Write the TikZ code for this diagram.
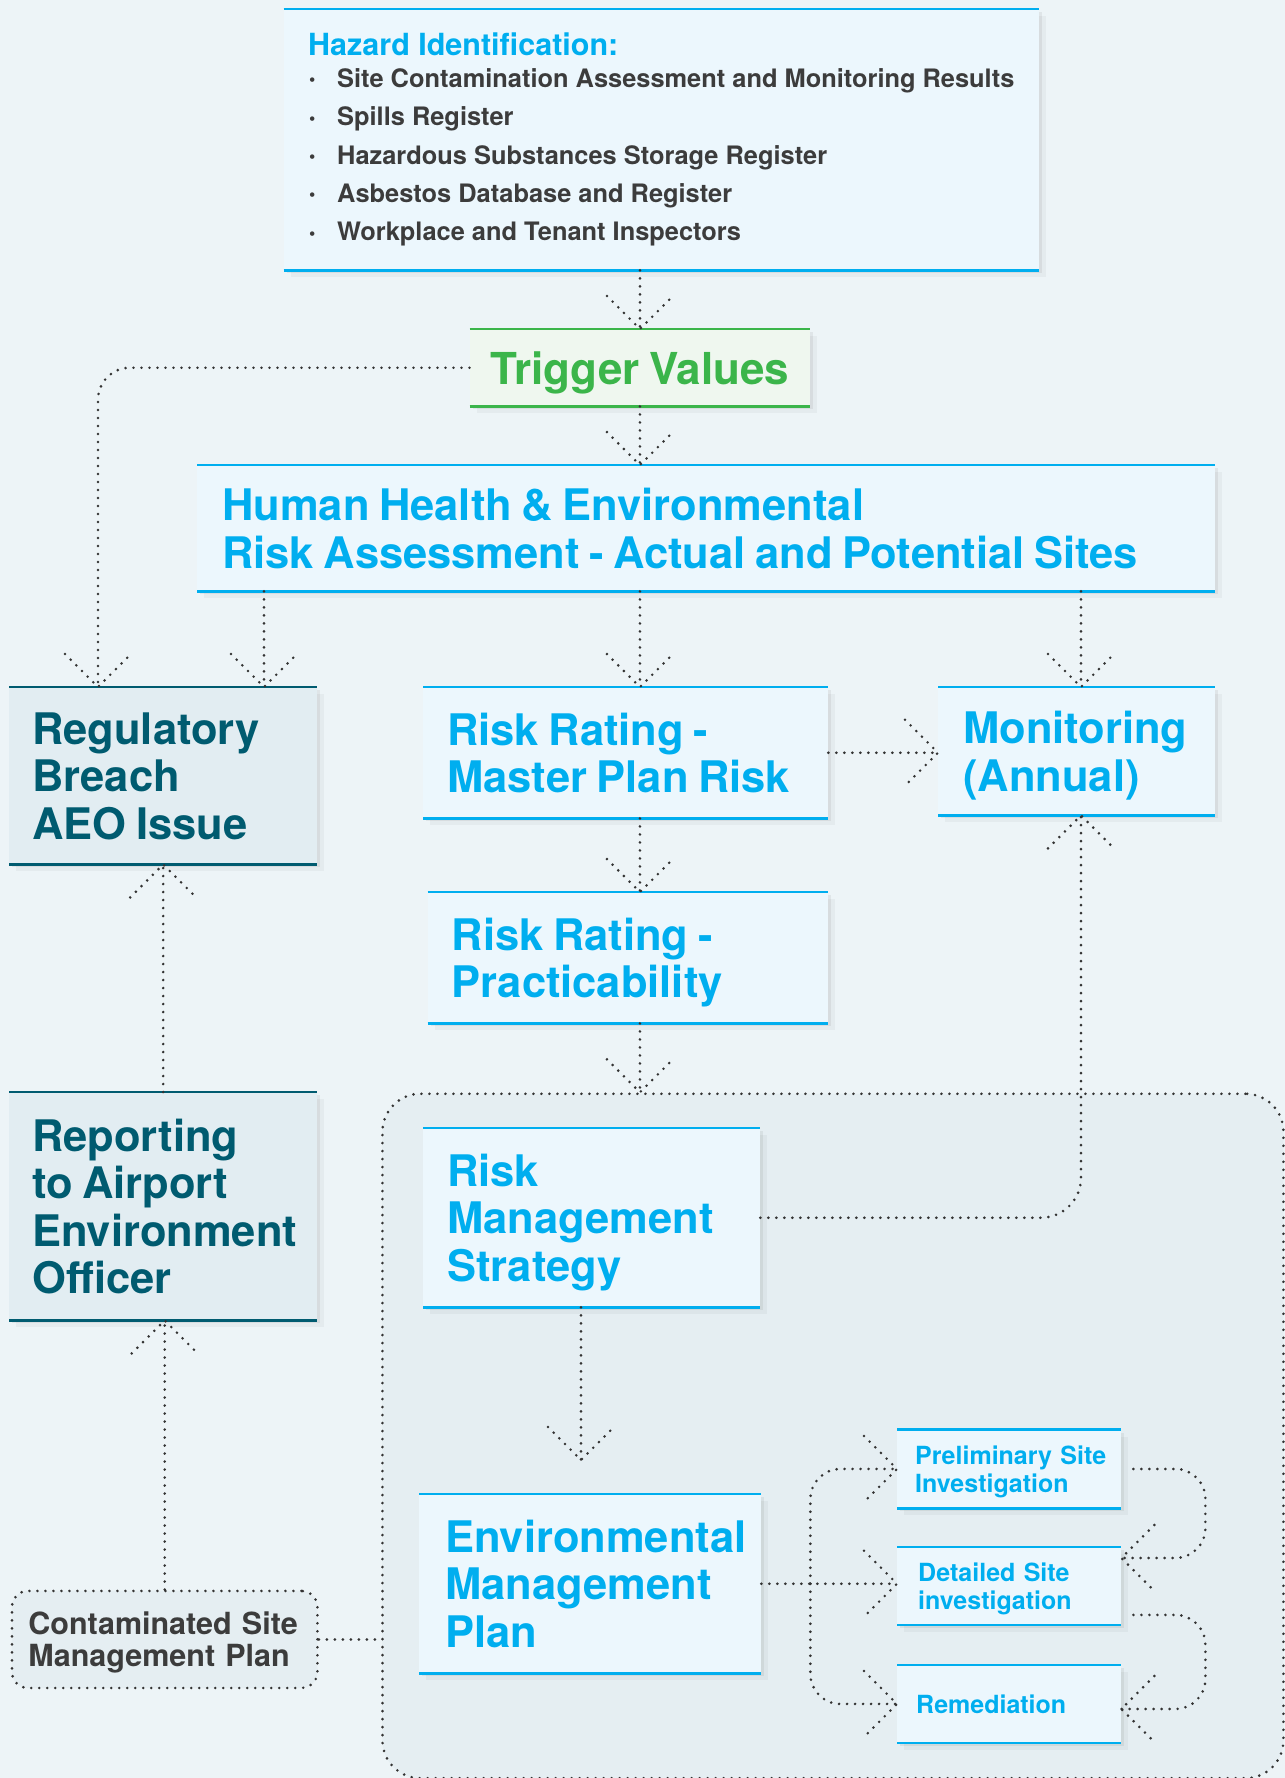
\documentclass[tikz,border=0pt]{standalone}
\usepackage{fontspec}
\setmainfont{TeX Gyre Heros}
\usetikzlibrary{shadows,calc}
\definecolor{bgc}{HTML}{EDF4F7}
\definecolor{zonef}{HTML}{E5EEF2}
\definecolor{boxf}{HTML}{ECF7FD}
\definecolor{cyanc}{HTML}{00AEEF}
\definecolor{tealc}{HTML}{005B70}
\definecolor{tealf}{HTML}{E2EDF2}
\definecolor{greenc}{HTML}{3BB54A}
\definecolor{greenf}{HTML}{EFF7EF}
\definecolor{dotc}{HTML}{333333}
\definecolor{grayt}{HTML}{3C3C3C}
\newcommand\nodp[1]{\raisebox{0pt}[\height][0pt]{#1}}
\newcommand\tsp{\spaceskip=0.22em plus 0.05em minus 0.02em\relax}
\newcommand\bigtxt{\fontsize{43.5}{47.5}\selectfont\bfseries}
\newcommand\smtxt{\fontsize{25}{28}\selectfont\bfseries}
\newcommand\bul{\makebox[28pt][l]{\raisebox{1.5pt}{\fontsize{18}{18}\selectfont\textbullet}}}
\newcommand\hd[1]{\draw[dl] (#1) ++(-33,-33) -- (#1) -- ++(33,-33);}
\newcommand\hu[1]{\draw[dl] (#1) ++(-33,33) -- (#1) -- ++(33,33);}
\newcommand\hr[1]{\draw[dl] (#1) ++(-33,-33) -- (#1) -- ++(-33,33);}
\newcommand\hl[1]{\draw[dl] (#1) ++(33,-33) -- (#1) -- ++(33,33);}
\tikzset{
  dl/.style={draw=dotc, line width=2.9pt, line cap=round, dash pattern=on 0pt off 8pt},
  sh/.style={drop shadow={shadow xshift=3pt,shadow yshift=-3pt,opacity=0.06,fill=black},
             drop shadow={shadow xshift=7pt,shadow yshift=-7pt,opacity=0.035,fill=black}},
  bx/.style n args={3}{anchor=north west, inner sep=0pt, align=left, minimum width=#1,
             minimum height=#2, text width=#3, fill=boxf, sh},
  bluebox/.style={text=cyanc, font=\bigtxt},
  smallbox/.style={text=cyanc, font=\smtxt},
  tealbox/.style={fill=tealf, text=tealc, font=\bigtxt},
  hzitem/.style={anchor=base west, inner sep=0pt, text=grayt, font=\fontsize{25.4}{30}\selectfont\bfseries},
  edgeline/.style={line width=2.6pt}
}
\begin{document}
\begin{tikzpicture}[x=1pt,y=-1pt]
\useasboundingbox (0,0) rectangle (1285,1778);
\fill[bgc] (0,0) rectangle (1285,1778);

% grouped region
\node[anchor=north west, inner sep=0pt, minimum width=901pt, minimum height=684.5pt,
      fill=zonef, dl, rounded corners=38pt] (zone) at (381,1092.3) {};

% contaminated site management plan
\node[anchor=north west, inner sep=0pt, minimum width=305.5pt, minimum height=97pt,
      text width=272.5pt, align=left, fill=zonef, dl, rounded corners=16pt,
      text=grayt, font=\fontsize{30.5}{32}\selectfont\bfseries] (csmp) at (10.5,1589.5)
      {\mbox{Contaminated Site}\\\nodp{\mbox{Management Plan}}};

% hazard identification
\node[bx={755.5pt}{261pt}{700pt}] (hz) at (283.5,9) {};
\node[anchor=base west, inner sep=0pt, text=cyanc, font=\fontsize{30.5}{32}\selectfont\bfseries]
      (hzh) at (308,55) {Hazard Identification:};
\node[hzitem] (hz1) at (309,87) {\bul Site Contamination Assessment and Monitoring Results};
\node[hzitem] (hz2) at (309,125.5) {\bul Spills Register};
\node[hzitem] (hz3) at (309,164) {\bul Hazardous Substances Storage Register};
\node[hzitem] (hz4) at (309,202.3) {\bul Asbestos Database and Register};
\node[hzitem] (hz5) at (309,240.7) {\bul Workplace and Tenant Inspectors};

% trigger values
\node[anchor=north west, inner sep=0pt, minimum width=340.5pt, minimum height=77pt,
      fill=greenf, sh, text=greenc, font=\fontsize{44}{48}\selectfont\bfseries]
      (trig) at (469.5,329) {\nodp{\tsp Trigger Values}};

% main boxes
\node[bx={1018pt}{126pt}{968pt}, bluebox] (hh) at (197,465)
  {\tsp Human Health \& Environmental\\\nodp{Risk Assessment - Actual and Potential Sites}};
\node[bx={308pt}{177pt}{262pt}, tealbox] (reg) at (9,687)
  {\tsp Regulatory\\Breach\\\nodp{AEO Issue}};
\node[bx={405pt}{131pt}{357pt}, bluebox] (rrm) at (423,687)
  {\tsp Risk Rating -\\\nodp{Master Plan Risk}};
\node[bx={277pt}{128pt}{227pt}, bluebox] (mon) at (938,687)
  {\mbox{Monitoring}\\\nodp{(Annual)}};
\node[bx={400.5pt}{131pt}{352.5pt}, bluebox] (rrp) at (427.5,892)
  {\tsp Risk Rating -\\\nodp{Practicability}};
\node[bx={308pt}{228pt}{262pt}, tealbox] (rep) at (9,1092)
  {\tsp Reporting\\to Airport\\\mbox{Environment}\\\nodp{Officer}};
\node[bx={337pt}{179pt}{289pt}, bluebox] (rms) at (423,1128)
  {Risk\\\mbox{Management}\\\nodp{Strategy}};
\node[bx={342pt}{179pt}{290pt}, bluebox] (emp) at (419,1494)
  {\mbox{Environmental}\\\mbox{Management}\\\nodp{Plan}};
\node[bx={224pt}{78.5pt}{188pt}, smallbox] (psi) at (897,1429.5)
  {\mbox{Preliminary Site}\\\nodp{Investigation}};
\node[bx={224pt}{77.5pt}{182pt}, smallbox] (dsi) at (897,1547)
  {\mbox{Detailed Site}\\\nodp{investigation}};
\node[bx={224pt}{77.5pt}{186pt}, smallbox] (rem) at (897,1665)
  {\nodp{Remediation}};

% box rules
\foreach \n in {hz,hh,rrm,mon,rrp,rms,emp,psi,dsi,rem}
  {\draw[cyanc, edgeline] (\n.north west) -- (\n.north east) (\n.south west) -- (\n.south east);}
\foreach \n in {reg,rep}
  {\draw[tealc, edgeline] (\n.north west) -- (\n.north east) (\n.south west) -- (\n.south east);}
\draw[greenc, line width=2.4pt] (trig.north west) -- (trig.north east) (trig.south west) -- (trig.south east);

% connectors
\draw[dl] (trig.center |- hz.south) -- (trig.north); \hd{trig.north}
\draw[dl] (trig.south) -- (trig.center |- hh.north); \hd{trig.center |- hh.north}

\coordinate (rA) at ([xshift=89pt]reg.north west);
\draw[dl, rounded corners=32pt] (trig.west) -| (rA); \hd{rA}
\coordinate (rB) at ([xshift=255pt]reg.north west);
\draw[dl] (rB |- hh.south) -- (rB); \hd{rB}

\draw[dl] (trig.center |- hh.south) -- (trig.center |- rrm.north); \hd{trig.center |- rrm.north}
\coordinate (mT) at ([xshift=143pt]mon.north west);
\draw[dl] (mT |- hh.south) -- (mT); \hd{mT}
\draw[dl] (rrm.east) -- (rrm.east -| mon.west); \hr{rrm.east -| mon.west}
\draw[dl] (trig.center |- rrm.south) -- (trig.center |- rrp.north); \hd{trig.center |- rrp.north}
\draw[dl] (trig.center |- rrp.south) -- (trig.center |- zone.north); \hd{trig.center |- zone.north}

\coordinate (mB) at ([xshift=143pt]mon.south west);
\draw[dl, rounded corners=40pt] (rms.east) -| (mB); \hu{mB}
\coordinate (eT) at ([xshift=162pt,yshift=34pt]emp.north west);
\draw[dl] (eT |- rms.south) -- (eT); \hd{eT}

\draw[dl] (rep.north) -- (rep.north |- reg.south); \hu{rep.north |- reg.south}
\draw[dl] (csmp.north) -- (csmp.north |- rep.south); \hu{csmp.north |- rep.south}
\draw[dl] (csmp.east) -- (csmp.east -| zone.west);

\draw[dl] (emp.east) -- (emp.east -| dsi.west); \hr{emp.east -| dsi.west}
\coordinate (jn) at ([xshift=49pt]emp.east);
\draw[dl, rounded corners=30pt] (jn) |- (psi.west); \hr{psi.west}
\draw[dl, rounded corners=30pt] (jn) |- (rem.west); \hr{rem.west}

\coordinate (p1) at ([xshift=12pt]psi.east);
\coordinate (d1) at ([yshift=-11pt]dsi.north east);
\draw[dl, rounded corners=30pt] (p1) -- ++(72,0) |- (d1); \hl{d1}
\coordinate (d2) at ([xshift=12pt,yshift=10pt]dsi.south east);
\coordinate (r1) at ([yshift=-5pt]rem.east);
\draw[dl, rounded corners=30pt] (d2) -- ++(72,0) |- (r1); \hl{r1}
\end{tikzpicture}
\end{document}
